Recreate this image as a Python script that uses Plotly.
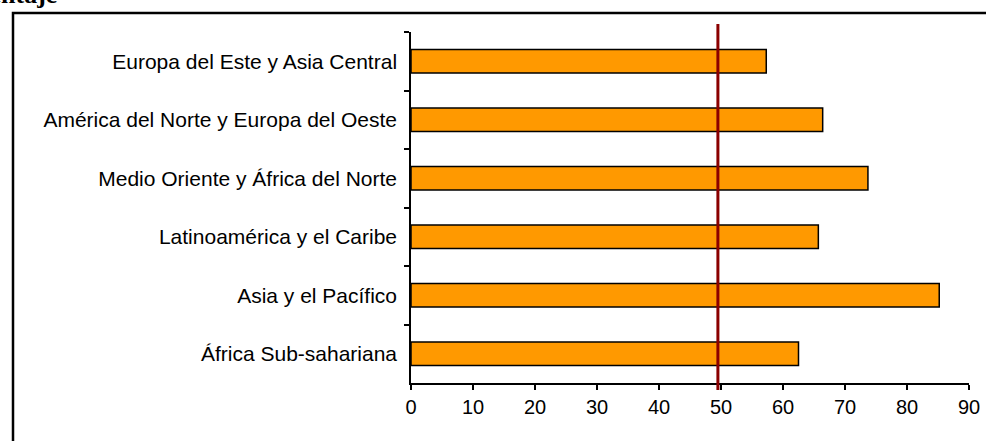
import plotly.graph_objects as go

regions = [
    "Europa del Este y Asia Central",
    "América del Norte y Europa del Oeste",
    "Medio Oriente y África del Norte",
    "Latinoamérica y el Caribe",
    "Asia y el Pacífico",
    "África Sub-sahariana",
]
values = [57.3, 66.4, 73.7, 65.7, 85.2, 62.5]
reference_value = 49.5
x_ticks = [0, 10, 20, 30, 40, 50, 60, 70, 80, 90]
title_text = "Porcentaje"

W, H = 986, 441
L, R, T, B = 411, 17, 32, 58
pw, ph = W - L - R, H - T - B

def px_to_paper_x(px):
    return (px - L) / pw

def px_to_paper_y(py):
    return (H - B - py) / ph

fig = go.Figure()
fig.add_trace(go.Bar(
    y=regions, x=values, orientation="h",
    marker=dict(color="#FF9900", line=dict(color="#000000", width=1.5)),
    width=0.4, showlegend=False, hoverinfo="x+y",
))

xfont = dict(family="Liberation Sans, Arial, sans-serif", size=20, color="#000000")
yfont = dict(family="Liberation Sans, Arial, sans-serif", size=21, color="#000000")

fig.update_layout(
    width=W, height=H,
    margin=dict(l=L, r=R, t=T, b=B, pad=0),
    paper_bgcolor="white", plot_bgcolor="white",
    font=xfont,
    xaxis=dict(
        range=[0, 90], tickvals=x_ticks, ticktext=[str(v) for v in x_ticks],
        showgrid=False, zeroline=False, showline=True, linecolor="#000000", linewidth=1.5,
        ticks="outside", ticklen=5, tickwidth=1.5, tickcolor="#000000",
        tickfont=xfont, fixedrange=True, automargin=False,
    ),
    yaxis=dict(
        type="category", autorange="reversed",
        showgrid=False, zeroline=False, showline=True, linecolor="#000000", linewidth=1.5,
        ticks="outside", ticklen=5, tickwidth=1.5, tickcolor="#000000",
        tickson="boundaries", ticklabelstandoff=8,
        tickfont=yfont, fixedrange=True, automargin=False,
    ),
    shapes=[
        dict(type="line", xref="x", yref="paper",
             x0=reference_value, x1=reference_value,
             y0=px_to_paper_y(390), y1=px_to_paper_y(24),
             line=dict(color="#8B0000", width=3)),
        dict(type="rect", xref="paper", yref="paper",
             x0=px_to_paper_x(13), x1=px_to_paper_x(1100),
             y0=px_to_paper_y(480), y1=px_to_paper_y(13),
             line=dict(color="#000000", width=2.5), fillcolor="rgba(0,0,0,0)",
             layer="above"),
    ],
    annotations=[
        dict(text="<b>" + title_text + "</b>", xref="paper", yref="paper",
             x=px_to_paper_x(58), y=px_to_paper_y(10),
             xanchor="right", yanchor="bottom", showarrow=False, borderpad=0,
             font=dict(family="Liberation Serif, Times New Roman, serif", size=26, color="#000000")),
    ],
)

fig.write_html("out.html")
